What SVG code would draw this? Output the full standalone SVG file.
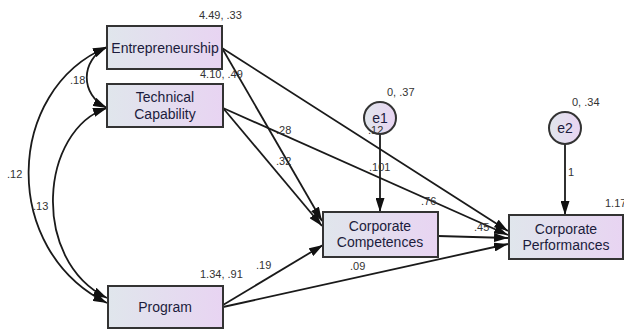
<svg xmlns="http://www.w3.org/2000/svg" width="624" height="329" viewBox="0 0 624 329">
<style>
.box{stroke:#333;stroke-width:2;fill:url(#g)}
.ell{stroke:#333;stroke-width:2;fill:url(#g)}
.nt{font-family:"Liberation Sans",Arial,sans-serif;font-size:14px;fill:#1c1c3c;text-anchor:middle}
.lb{font-family:"Liberation Sans",Arial,sans-serif;font-size:11px;fill:#333}
.c{stroke:#1a1a1a;stroke-width:1.8;fill:none;marker-end:url(#ah)}
.d{stroke:#1a1a1a;stroke-width:1.8;fill:none;marker-end:url(#ah);marker-start:url(#ah)}
</style>
<defs>
<linearGradient id="g" x1="0" y1="0" x2="1" y2="0">
<stop offset="0" stop-color="#e0e6ec"/>
<stop offset="1" stop-color="#e8d4f2"/>
</linearGradient>
<marker id="ah" viewBox="0 0 14 9" refX="14" refY="4.5" markerWidth="14" markerHeight="9" markerUnits="userSpaceOnUse" orient="auto-start-reverse">
<path d="M0,0 L14,4.5 L0,9 Z" fill="#111"/>
</marker>
</defs>
<g id="connectors">
<path class="d" d="M107,47 C80,60 80,95 107,108"/>
<path class="d" d="M107,47 C5,90 0,250 107,303"/>
<path class="d" d="M107,108 C40,130 30,260 107,298"/>
<path class="c" d="M222,48 L508,231"/>
<path class="c" d="M222,48 L322,221"/>
<path class="c" d="M223,108 L508,235"/>
<path class="c" d="M223,108 L322,226"/>
<path class="c" d="M223,305 L323,245"/>
<path class="c" d="M223,307 L508,244"/>
<path class="c" d="M438,236 L508,238"/>
<path class="c" d="M380,134 L380,212"/>
<path class="c" d="M565,144 L565,215"/>
</g>
<g id="entrepreneurship">
<rect class="box" x="107" y="26" width="115" height="43"/>
<text class="nt" x="165" y="53">Entrepreneurship</text>
<text class="lb" x="199" y="19">4.49, .33</text>
</g>
<g id="technical">
<rect class="box" x="107" y="84" width="116" height="43"/>
<text class="nt" x="165" y="102">Technical</text>
<text class="nt" x="165" y="119">Capability</text>
<text class="lb" x="200" y="78">4.10, .49</text>
</g>
<g id="program">
<rect class="box" x="108" y="286" width="115" height="42"/>
<text class="nt" x="165" y="312">Program</text>
<text class="lb" x="200" y="278">1.34, .91</text>
</g>
<g id="competences">
<rect class="box" x="323" y="212" width="115" height="45"/>
<text class="nt" x="380" y="231">Corporate</text>
<text class="nt" x="380" y="247">Competences</text>
</g>
<g id="performances">
<rect class="box" x="509" y="215" width="114" height="44"/>
<text class="nt" x="566" y="234">Corporate</text>
<text class="nt" x="566" y="250">Performances</text>
<text class="lb" x="605" y="207">1.17</text>
</g>
<g id="e1">
<circle class="ell" cx="380" cy="118" r="16"/>
<text class="nt" x="380" y="123">e1</text>
<text class="lb" x="387" y="96">0, .37</text>
</g>
<g id="e2">
<circle class="ell" cx="565" cy="128" r="16"/>
<text class="nt" x="565" y="133">e2</text>
<text class="lb" x="572" y="106">0, .34</text>
</g>
<g id="labels">
<text class="lb" x="70" y="84">.18</text>
<text class="lb" x="7" y="178">.12</text>
<text class="lb" x="33" y="210">.13</text>
<text class="lb" x="276" y="134">.28</text>
<text class="lb" x="276" y="165">.32</text>
<text class="lb" x="368" y="134">.12</text>
<text class="lb" x="369" y="171">.101</text>
<text class="lb" x="568" y="176">1</text>
<text class="lb" x="421" y="205">.76</text>
<text class="lb" x="474" y="231">.45</text>
<text class="lb" x="350" y="270">.09</text>
<text class="lb" x="256" y="269">.19</text>
</g>
</svg>
